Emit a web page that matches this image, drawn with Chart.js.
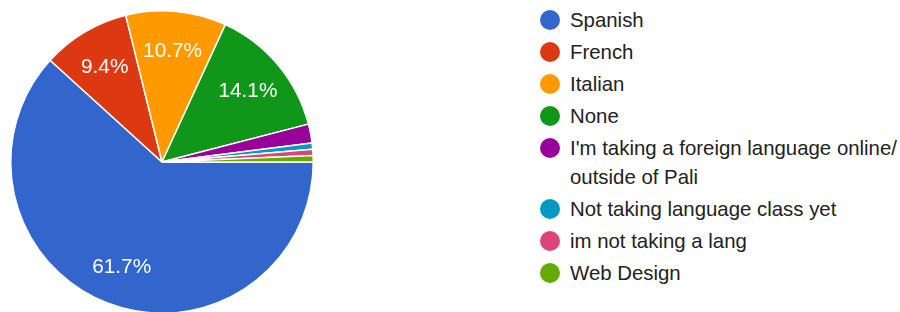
<!DOCTYPE html>
<html>
<head>
<meta charset="utf-8">
<script src="https://cdn.jsdelivr.net/npm/chart.js@4/dist/chart.umd.min.js"></script>
<style>
    html, body { margin: 0; padding: 0; background: #fff; overflow: hidden; }
    body { width: 900px; height: 312px; position: relative; font-family: "Liberation Sans", Arial, sans-serif; }
    #pieBox { position: absolute; left: 0; top: 0; width: 324px; height: 324px; }
    #legend { position: absolute; left: 540px; top: 4px; }
    .item { display: flex; align-items: flex-start; padding: 1.5px 0; }
    .dot { width: 20px; height: 20px; border-radius: 50%; margin-top: 4.5px; margin-right: 10px; flex: none; }
    .txt { font-size: 20.4px; line-height: 29px; color: #222; width: 335px; }
</style>
</head>
<body>
<div id="pieBox"><canvas id="languageChart"></canvas></div>
<div id="legend"></div>
<script>
// responses per language
const labels = [
    'Spanish',
    'French',
    'Italian',
    'None',
    "I'm taking a foreign language online/outside of Pali",
    'Not taking language class yet',
    'im not taking a lang',
    'Web Design'
];
const counts = [92, 14, 16, 21, 3, 1, 1, 1];
const colors = ['#3366cc', '#dc3912', '#ff9900', '#109618', '#990099', '#0099c6', '#dd4477', '#66aa00'];

const total = counts.reduce((a, b) => a + b, 0);

// white percentage labels inside the big slices
const sliceLabels = {
    id: 'sliceLabels',
    afterDatasetsDraw(chart) {
        const ctx = chart.ctx;
        const arcs = chart.getDatasetMeta(0).data;
        ctx.save();
        ctx.fillStyle = '#fff';
        ctx.font = '20.8px "Liberation Sans", Arial, sans-serif';
        ctx.textAlign = 'center';
        ctx.textBaseline = 'middle';
        arcs.forEach((arc, i) => {
            const pct = counts[i] / total * 100;
            if (pct < 5) return;
            const p = arc.getProps(['x', 'y', 'startAngle', 'endAngle', 'outerRadius'], true);
            const mid = (p.startAngle + p.endAngle) / 2;
            const r = p.outerRadius * 0.74;
            ctx.fillText(pct.toFixed(1) + '%', p.x + Math.cos(mid) * r, p.y + Math.sin(mid) * r + 1);
        });
        ctx.restore();
    }
};

new Chart(document.getElementById('languageChart'), {
    type: 'pie',
    data: {
        labels: labels,
        datasets: [{
            data: counts,
            backgroundColor: colors,
            borderColor: '#fff',
            borderWidth: 1.5
        }]
    },
    options: {
        responsive: true,
        maintainAspectRatio: false,
        animation: false,
        rotation: 90,
        layout: { padding: 10 },
        plugins: {
            legend: { display: false },
            tooltip: { enabled: false }
        }
    },
    plugins: [sliceLabels]
});

// legend on the right
const legend = document.getElementById('legend');
labels.forEach((name, i) => {
    const row = document.createElement('div');
    row.className = 'item';
    const dot = document.createElement('span');
    dot.className = 'dot';
    dot.style.background = colors[i];
    const txt = document.createElement('span');
    txt.className = 'txt';
    txt.textContent = name.replace('/', '/\u200b');
    row.appendChild(dot);
    row.appendChild(txt);
    legend.appendChild(row);
});
</script>
</body>
</html>
